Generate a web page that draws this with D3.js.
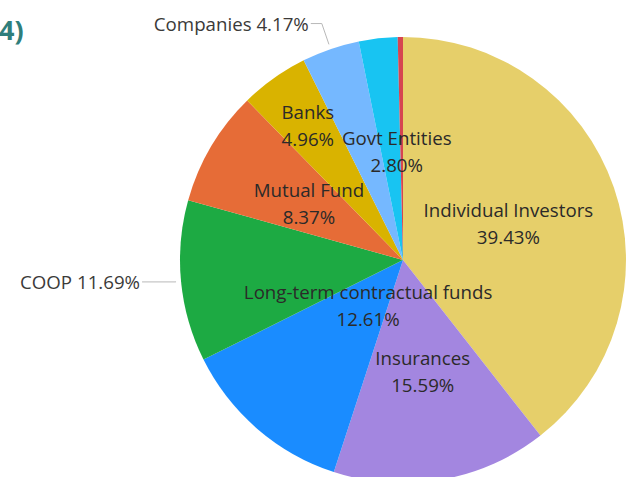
<!DOCTYPE html>
<html>
<head>
<meta charset="utf-8">
<script src="https://cdn.jsdelivr.net/npm/d3@7"></script>
<style>
  html, body { margin: 0; padding: 0; background: #ffffff; }
  svg { display: block; }
</style>
</head>
<body>
<svg id="chart" width="635" height="477"></svg>
<script>
// Ownership breakdown by investor type (percent)
const categories = [
  "Individual Investors", "Insurances", "Long-term contractual funds", "COOP",
  "Mutual Fund", "Banks", "Companies", "Govt Entities", "Others"
];
const shares = [39.43, 15.59, 12.61, 11.69, 8.37, 4.96, 4.17, 2.80, 0.38];
const colors = [
  "#E6CF6A", "#A386E0", "#1A8CFF", "#1DAA43",
  "#E66C37", "#D9B300", "#75B8FF", "#18C4F2", "#D64550"
];
const headingText = "4)";

const svg = d3.select("#chart");
const cx = 403, cy = 260, R = 223;
const font = "'Open Sans', 'Noto Sans', sans-serif";
const labelSize = 18.7;

const data = categories.map((c, i) => ({ name: c, value: shares[i], color: colors[i] }));

const pie = d3.pie().value(d => d.value).sort(null).startAngle(0).endAngle(2 * Math.PI);
const arcs = pie(data);
const arc = d3.arc().innerRadius(0).outerRadius(R);

const g = svg.append("g").attr("transform", `translate(${cx},${cy})`);

g.selectAll("path.slice")
  .data(arcs)
  .join("path")
  .attr("class", "slice")
  .attr("d", arc)
  .attr("fill", d => d.data.color);

// heading fragment at top-left
svg.append("text")
  .attr("x", -1).attr("y", 40)
  .attr("font-family", font)
  .attr("font-weight", 700)
  .attr("font-size", 27)
  .attr("fill", "#2F7E7B")
  .text(headingText);

// inside labels: name + percent, placed along each slice's mid-angle
// (radius as a fraction of R; optional angle in degrees to nudge crowded labels)
const insideLayout = {
  "Individual Investors": { r: 0.50 },
  "Insurances": { r: 0.51 },
  "Long-term contractual funds": { r: 0.26, deg: 217 },
  "Mutual Fund": { r: 0.49 },
  "Banks": { r: 0.737 },
  "Govt Entities": { r: 0.485, deg: 356.7 }
};
const fmt = v => v.toFixed(2) + "%";
const midAngle = d => (d.startAngle + d.endAngle) / 2;
const polar = (a, r) => [r * Math.sin(a), -r * Math.cos(a)];

const inside = arcs.filter(d => insideLayout[d.data.name]);
const lab = g.selectAll("g.inlabel")
  .data(inside)
  .join("g")
  .attr("class", "inlabel")
  .attr("transform", d => {
    const L = insideLayout[d.data.name];
    const a = L.deg !== undefined ? L.deg * Math.PI / 180 : midAngle(d);
    const [x, y] = polar(a, R * L.r);
    return `translate(${x},${y})`;
  });
lab.append("text")
  .attr("text-anchor", "middle")
  .attr("y", -13.5)
  .attr("dy", "0.35em")
  .attr("font-family", font)
  .attr("font-size", labelSize)
  .attr("fill", "#2b2a29")
  .text(d => d.data.name);
lab.append("text")
  .attr("text-anchor", "middle")
  .attr("y", 13.5)
  .attr("dy", "0.35em")
  .attr("font-family", font)
  .attr("font-size", labelSize)
  .attr("fill", "#2b2a29")
  .text(d => fmt(d.data.value));

// outside labels with leader lines
const outside = {
  "Companies": { elbow: 250, run: 11 },
  "COOP": { elbow: 229, run: 33 }
};
const outArcs = arcs.filter(d => outside[d.data.name]);
outArcs.forEach(d => {
  const o = outside[d.data.name];
  const a = midAngle(d);
  const p0 = polar(a, R + 5);
  const p1 = polar(a, o.elbow);
  const p2 = [p1[0] - o.run, p1[1]];
  g.append("polyline")
    .attr("points", [p0, p1, p2].map(p => p.join(",")).join(" "))
    .attr("fill", "none")
    .attr("stroke", "#b8b8b8")
    .attr("stroke-width", 1);
  g.append("text")
    .attr("x", p2[0] - 2)
    .attr("y", p2[1] + 1)
    .attr("dy", "0.35em")
    .attr("text-anchor", "end")
    .attr("font-family", font)
    .attr("font-size", labelSize)
    .attr("fill", "#3b3a39")
    .text(`${d.data.name} ${fmt(d.data.value)}`);
});
</script>
</body>
</html>
